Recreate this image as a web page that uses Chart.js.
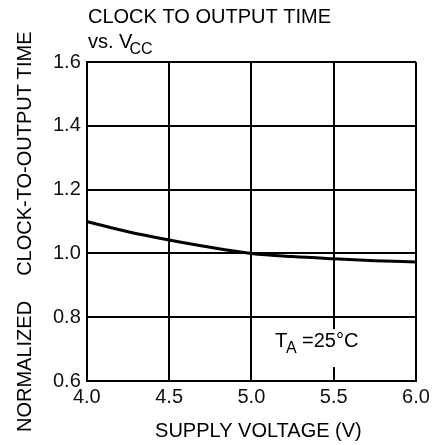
<!DOCTYPE html>
<html>
<head>
<meta charset="utf-8">
<script src="https://cdn.jsdelivr.net/npm/chart.js@4/dist/chart.umd.min.js"></script>
<style>
  html, body { margin: 0; padding: 0; background: #fff; }
  #wrap { width: 438px; height: 445px; position: relative; }
  #yTitle {
    position: absolute; left: 14px; top: 432px;
    transform-origin: 0 0; transform: rotate(-90deg);
    font: 20px 'Liberation Sans', Arial, sans-serif; line-height: 20px;
    white-space: pre; color: #000;
  }
  #yTitle span + span { margin-left: 25px; }
</style>
</head>
<body>
<div id="wrap">
  <canvas id="clockChart"></canvas>
  <div id="yTitle"><span>NORMALIZED</span><span>CLOCK-TO-OUTPUT TIME</span></div>
</div>
<script>
const voltage = [4.0, 4.25, 4.5, 4.75, 5.0, 5.25, 5.5, 5.75, 6.0];
const normTime = [1.10, 1.068, 1.042, 1.019, 1.0, 0.99, 0.983, 0.977, 0.973];
const xTicks = [4.0, 4.5, 5.0, 5.5, 6.0];
const yTicks = [0.6, 0.8, 1.0, 1.2, 1.4, 1.6];

const FONT = "'Liberation Sans', Arial, Helvetica, sans-serif";

// title, x title and the T_A note drawn on top of the chart
const textPlugin = {
  id: "textPlugin",
  afterDraw(chart) {
    const c = chart.ctx;
    const area = chart.chartArea;
    const xs = chart.scales.x, ys = chart.scales.y;
    c.save();
    c.fillStyle = "#000";
    c.textBaseline = "alphabetic";
    c.textAlign = "left";

    c.font = "20px " + FONT;
    c.fillText("CLOCK TO OUTPUT TIME", 88, 23);
    c.fillText("vs. V", 88, 48);
    const w = c.measureText("vs. V").width;
    c.font = "16px " + FONT;
    c.fillText("CC", 88 + w - 3, 54);

    c.textAlign = "center";
    c.font = "20px " + FONT;
    c.fillText("SUPPLY VOLTAGE (V)", (area.left + area.right) / 2 + 7, 437);

    const bx = xs.getPixelForValue(5.5);
    const by = (ys.getPixelForValue(0.8) + ys.getPixelForValue(0.6)) / 2;
    c.fillStyle = "#fff";
    c.fillRect(bx - 60, by - 20, 120, 38);
    c.fillStyle = "#000";
    c.textAlign = "left";
    c.font = "20px " + FONT;
    c.fillText("T", 275, 347);
    c.font = "16px " + FONT;
    c.fillText("A", 286, 353);
    c.font = "20px " + FONT;
    c.fillText("=25\u00B0C", 302, 347);
    c.restore();
  }
};

new Chart(document.getElementById("clockChart"), {
  type: "line",
  data: {
    datasets: [{
      data: voltage.map((v, i) => ({ x: v, y: normTime[i] })),
      borderColor: "#000",
      borderWidth: 3,
      pointRadius: 0,
      cubicInterpolationMode: "monotone",
      fill: false
    }]
  },
  options: {
    responsive: true,
    maintainAspectRatio: false,
    animation: false,
    layout: { padding: { top: 62, right: 22, left: 47, bottom: 32 } },
    plugins: { legend: { display: false }, tooltip: { enabled: false } },
    scales: {
      x: {
        type: "linear",
        min: 4, max: 6,
        afterBuildTicks: (s) => { s.ticks = xTicks.map(v => ({ value: v })); },
        grid: { color: "#000", lineWidth: 2, drawTicks: false },
        border: { color: "#000", width: 2 },
        ticks: {
          color: "#111",
          font: { family: FONT, size: 20 },
          padding: 4,
          maxRotation: 0,
          callback: (v) => Number(v).toFixed(1)
        }
      },
      y: {
        min: 0.6, max: 1.6,
        afterBuildTicks: (s) => { s.ticks = yTicks.map(v => ({ value: v })); },
        grid: { color: "#000", lineWidth: 2, drawTicks: false },
        border: { color: "#000", width: 2 },
        ticks: {
          color: "#111",
          font: { family: FONT, size: 20 },
          padding: 6,
          callback: (v) => Number(v).toFixed(1)
        }
      }
    }
  },
  plugins: [textPlugin]
});
</script>
</body>
</html>
